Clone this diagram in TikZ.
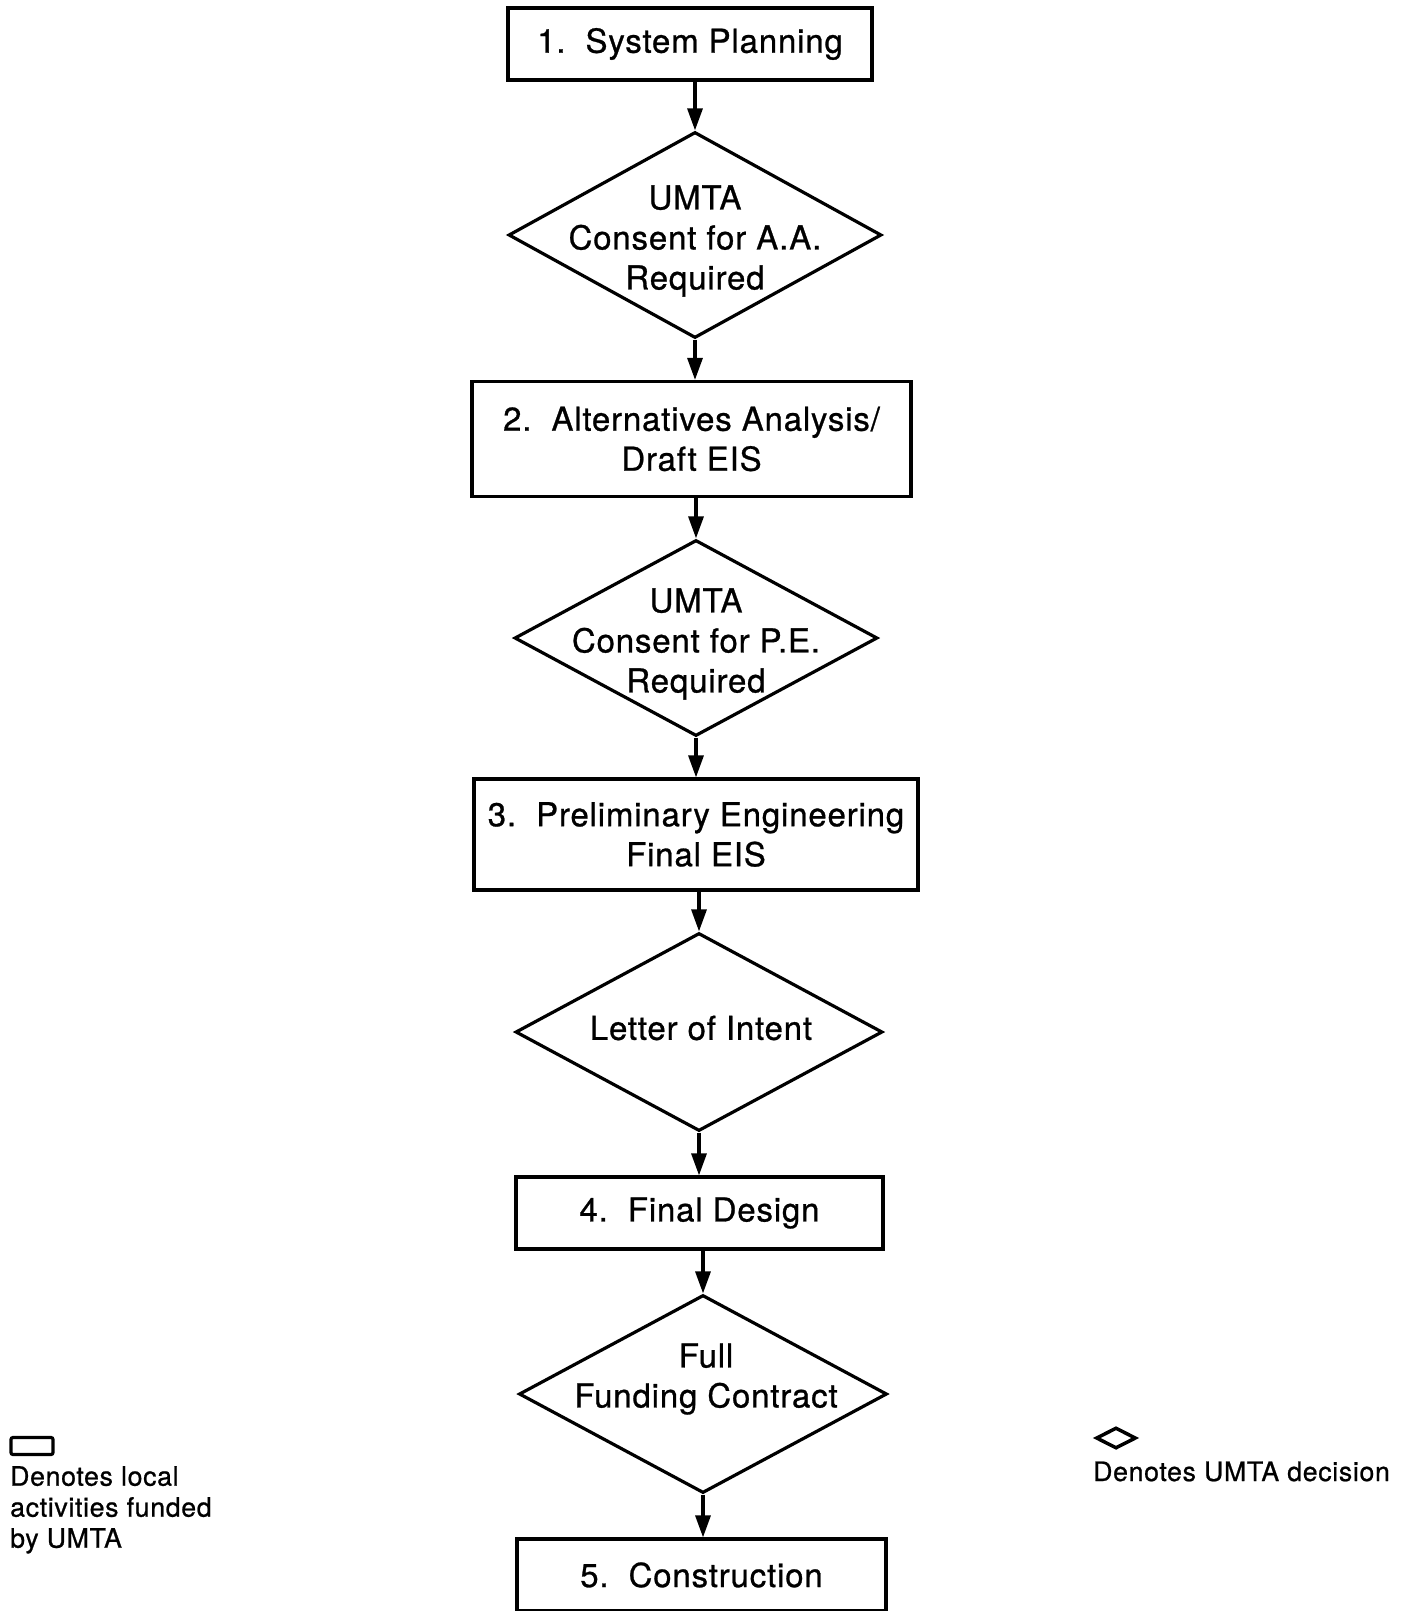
\documentclass[tikz,border=0pt]{standalone}
\usepackage{fontspec}
\setmainfont{TeX Gyre Heros}[LetterSpace=2.5,FakeBold=0.8]
\usetikzlibrary{shapes.geometric,arrows.meta}
\begin{document}
\begin{tikzpicture}[x=1pt,y=-1pt,
  stepbox/.style={draw,line width=3.2pt,rectangle,inner sep=0pt,align=center,
    font=\fontsize{33}{40}\selectfont},
  decision/.style={draw,line width=3.2pt,diamond,inner sep=0pt},
  dtext/.style={align=center,inner sep=0pt,font=\fontsize{33}{40}\selectfont},
  flow/.style={line width=3.2pt,-{Triangle[length=22pt,width=15pt]}},
  legtext/.style={inner sep=0pt,align=left,font=\fontsize{26.7}{31}\selectfont}]
\useasboundingbox (0,0) rectangle (1408,1611);
% boxes
\node[stepbox,minimum width=364pt,minimum height=72pt] (b1) at (690,44) {1.\ \ System Planning};
\node[stepbox,minimum width=439pt,minimum height=115pt] (b2) at (691.5,439) {2.\ \ Alternatives Analysis/\\Draft EIS};
\node[stepbox,minimum width=444pt,minimum height=111pt] (b3) at (696,834.5) {3.\ \ Preliminary Engineering\\Final EIS};
\node[stepbox,minimum width=367pt,minimum height=72pt] (b4) at (699.5,1213) {4.\ \ Final Design};
\node[stepbox,minimum width=369pt,minimum height=72pt] (b5) at (701.5,1575) {5.\ \ Construction};
% decisions
\node[decision,minimum width=373pt,minimum height=206pt] (d1) at (695,235) {};
\node[dtext] (t1) at ([yshift=-6pt]d1.center) {UMTA\\Consent for A.A.\\Required};
\node[decision,minimum width=363pt,minimum height=196pt] (d2) at (696,638) {};
\node[dtext] (t2) at ([yshift=-6pt]d2.center) {UMTA\\Consent for P.E.\\Required};
\node[decision,minimum width=367pt,minimum height=198pt] (d3) at (699,1032) {};
\node[dtext] (t3) at ([yshift=4pt,xshift=2pt]d3.center) {Letter of Intent};
\node[decision,minimum width=368pt,minimum height=198pt] (d4) at (703,1394) {};
\node[dtext] (t4) at ([yshift=15pt,xshift=3pt]d4.center) {Full\\Funding Contract};
% connectors
\draw[flow] (d1.north |- b1.south) -- (d1.north);
\draw[flow] (d1.south) -- (d1.south |- b2.north);
\draw[flow] (d2.north |- b2.south) -- (d2.north);
\draw[flow] (d2.south) -- (d2.south |- b3.north);
\draw[flow] (d3.north |- b3.south) -- (d3.north);
\draw[flow] (d3.south) -- (d3.south |- b4.north);
\draw[flow] (d4.north |- b4.south) -- (d4.north);
\draw[flow] (d4.south) -- (d4.south |- b5.north);
% legends
\node[draw,line width=3.2pt,rounded corners=2pt,minimum width=42pt,minimum height=17pt,inner sep=0pt] (lbox) at (32,1446) {};
\node[legtext,anchor=north west] (ltext) at (10,1466) {Denotes local\\activities funded\\by UMTA};
\node[draw,line width=3.5pt,diamond,inner sep=0pt,minimum width=40pt,minimum height=21pt] (ldia) at (1116,1438) {};
\node[legtext,anchor=base west] (rtext) at (1093,1481) {Denotes UMTA decision};
\end{tikzpicture}
\end{document}
